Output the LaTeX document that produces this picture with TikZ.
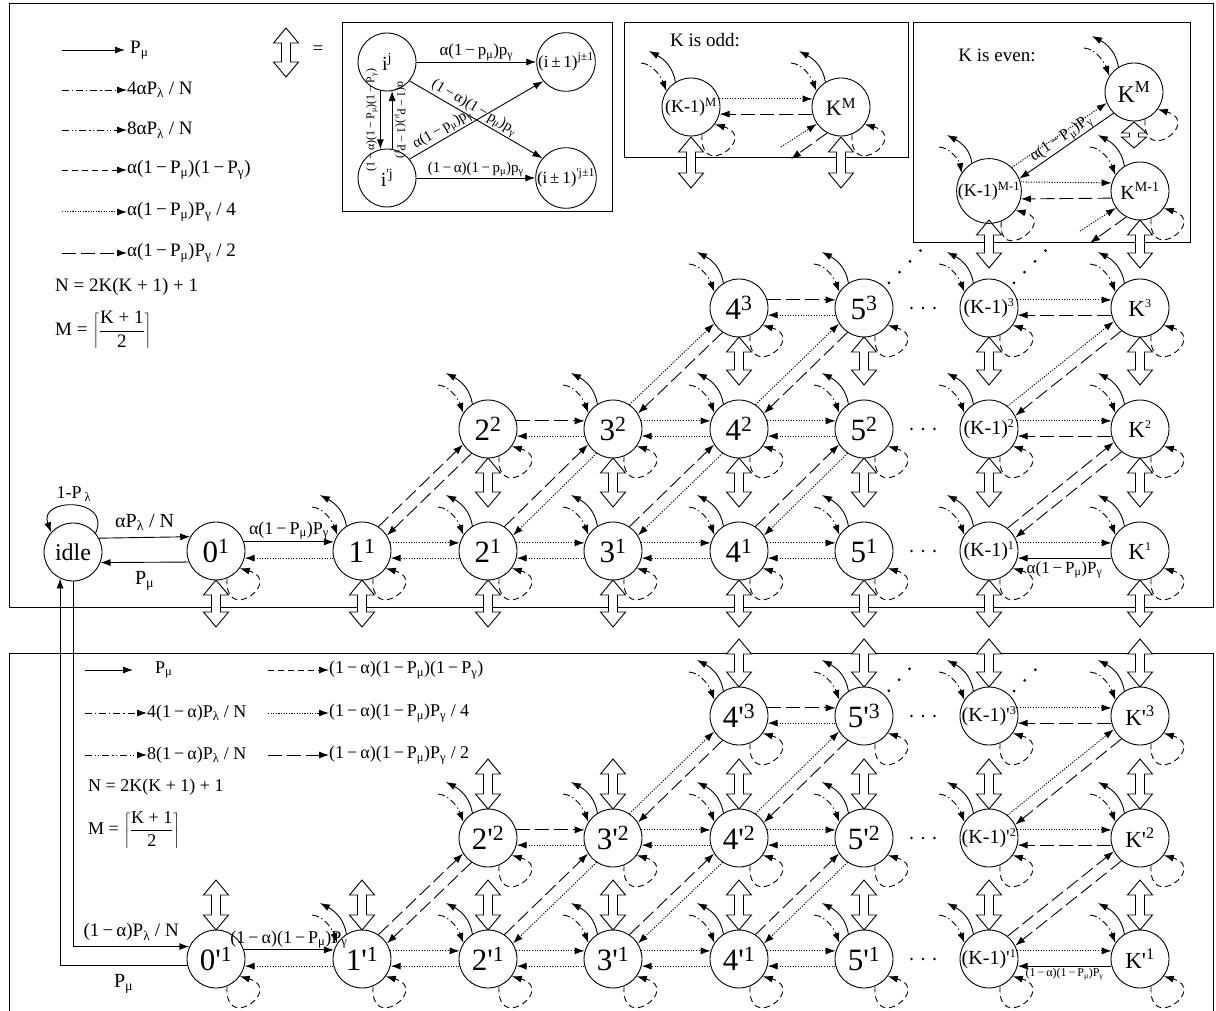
\documentclass[tikz,border=0pt]{standalone}
\usepackage{fontspec}
\setmainfont{Liberation Serif}
\usetikzlibrary{arrows.meta,calc}
\newcommand{\su}[1]{\textsuperscript{#1}}
\newcommand{\ssu}[1]{\textsuperscript{\fontsize{12}{12}\selectfont #1}}
\newcommand{\sbx}[1]{\textsubscript{#1}}
\newcommand{\qs}{\textquotesingle}
\newcommand{\fs}[1]{\fontsize{#1}{#1}\selectfont}
\tikzset{
  st/.style={circle,draw,line width=0.9pt,minimum size=58pt,inner sep=0pt},
  big/.style={font=\fs{31}},
  kmf/.style={font=\fs{20}},
  kf/.style={font=\fs{23}},
  lg/.style={font=\fs{19},inner sep=0pt,anchor=west},
  lab/.style={font=\fs{17},inner sep=1pt},
  arr/.style={-{Latex[length=10pt,width=7pt]},line width=0.9pt},
  dotl/.style={arr,line width=1pt,dash pattern=on 1.1pt off 1.5pt},
  ldash/.style={arr,dash pattern=on 14pt off 5pt},
  sdash/.style={arr,dash pattern=on 6pt off 4pt},
  ddot/.style={arr,dash pattern=on 7pt off 3pt on 1.2pt off 3pt},
  dddot/.style={arr,dash pattern=on 7pt off 3pt on 1.2pt off 2pt on 1.2pt off 3pt},
  dblst/.style={line width=0.9pt,fill=white},
  bigdots/.style={line width=3pt,line cap=round,dash pattern=on 0pt off 15pt},
  hdots/.style={line width=2.6pt,line cap=round,dash pattern=on 0pt off 11.5pt},
  frame/.style={line width=1pt},
}
\newcommand{\dbl}[3]{\draw[dblst] (#1,#2) -- (#1-12.5,#2+15) -- (#1-4.5,#2+15) -- (#1-4.5,#3-15) -- (#1-12.5,#3-15) -- (#1,#3) -- (#1+12.5,#3-15) -- (#1+4.5,#3-15) -- (#1+4.5,#2+15) -- (#1+12.5,#2+15) -- cycle;}
\newcommand{\dblshort}[3]{\draw[dblst] (#1,#2) -- (#1-12.5,#2+11) -- (#1-4.5,#2+11) -- (#1-4.5,#3-11) -- (#1-12.5,#3-11) -- (#1,#3) -- (#1+12.5,#3-11) -- (#1+4.5,#3-11) -- (#1+4.5,#2+11) -- (#1+12.5,#2+11) -- cycle;}
\newcommand{\updeco}[1]{%
  \draw[arr] (#1.122) .. controls ($(#1)+(-18,-40)$) and ($(#1)+(-27,-48)$) .. ($(#1)+(-42,-56)$);
  \draw[ddot] ($(#1)+(-50,-44)$) .. controls ($(#1)+(-37,-43)$) and ($(#1)+(-29,-28)$) .. (#1.147);}
\newcommand{\lpdeco}[1]{\draw[sdash] (#1.-68) .. controls ($(#1)+(8,75)$) and ($(#1)+(68,30)$) .. (#1.-36);}
\newcommand{\llarr}[1]{%
  \draw[dotl] ($(#1)+(-60,40)$) -- (#1.215);
  \draw[ldash] (#1.242) -- ($(#1)+(-50,52)$);}
\newcommand{\hp}[4]{\draw[#3] (#1.16) -- (#2.164); \draw[#4] (#2.-166) -- (#1.-14);}
\newcommand{\dpr}[5]{%
  \pgfmathtruncatemacro\dA{#3+12}\pgfmathtruncatemacro\dB{#3+168}%
  \pgfmathtruncatemacro\dC{#3+192}\pgfmathtruncatemacro\dD{#3-12}%
  \draw[#4] (#1.\dA) -- (#2.\dB); \draw[#5] (#2.\dC) -- (#1.\dD);}
\begin{document}
\begin{tikzpicture}[x=1pt,y=-1pt]
\useasboundingbox (0,0) rectangle (1216,1011);
% frames
\draw[frame] (9,4) rectangle (1213,607);
\draw[frame] (9,1030) -- (9,653) -- (1213,653) -- (1213,1030);
\draw[frame] (342,23) rectangle (612,212);
\draw[frame] (624,23) rectangle (908,158);
\draw[frame] (913,23) rectangle (1190,243);
% double arrows
\foreach \x in {216,362,488,613,739,864,989,1140} {\dbl{\x}{580}{627} \dbl{\x}{880}{930}}
\foreach \x in {488,613,739,864,989,1140} {\dbl{\x}{458}{507} \dbl{\x}{759}{809}}
\foreach \x in {739,864,989,1140} {\dbl{\x}{337}{385} \dbl{\x}{639}{687}}
\dbl{989}{220}{268} \dbl{1140}{220}{268}
\dbl{691}{137}{188} \dbl{841}{137}{188}
\dbl{286}{28}{77}
\dblshort{1134}{122}{148}
\node[font=\fs{19}] (eq) at (318,50) {=};

% ---------- legend top ----------
\node[lg] (L1) at (130,50) {P\sbx{μ}};
\node[lg] (L2) at (127,90) {4αP\sbx{λ} / N};
\node[lg] (L3) at (127,130) {8αP\sbx{λ} / N};
\node[lg] (L4) at (127,170) {α(1\,−\,P\sbx{μ})(1\,−\,P\sbx{γ})};
\node[lg] (L5) at (127,212) {α(1\,−\,P\sbx{μ})P\sbx{γ} / 4};
\node[lg] (L6) at (127,253) {α(1\,−\,P\sbx{μ})P\sbx{γ} / 2};
\draw[arr,shorten >=5pt] ($(L1.west)+(-68,0)$) -- (L1.west);
\draw[ddot] ($(L2.west)+(-65,0)$) -- (L2.west);
\draw[dddot] ($(L3.west)+(-65,0)$) -- (L3.west);
\draw[sdash] ($(L4.west)+(-65,0)$) -- (L4.west);
\draw[dotl] ($(L5.west)+(-65,0)$) -- (L5.west);
\draw[ldash] ($(L6.west)+(-65,0)$) -- (L6.west);
\node[lg] (LN) at (55,287) {N = 2K(K + 1) + 1};
\node[lg] (LM) at (55,330) {M = $\left\lceil\displaystyle\frac{\mbox{K + 1}}{\mbox{2}}\right\rceil$};

% ---------- inset ----------
\node[st,font=\fs{20}] (ij) at (387,62) {i\su{j}};
\node[st,font=\fs{17}] (ip) at (566,62) {(i\,±\,1)\su{j±1}};
\node[st,font=\fs{20}] (ipj) at (387,178) {i\su{\qs j}};
\node[st,font=\fs{17}] (ipp) at (566,178) {(i\,±\,1)\su{\qs j±1}};
\draw[arr] (ij.east) -- (ip.west) node[midway,above,lab] {α(1\,−\,p\sbx{μ})p\sbx{γ}};
\draw[arr] (ipj.east) -- (ipp.west) node[midway,above,lab,font=\fs{15}] {(1\,−\,α)(1\,−\,p\sbx{μ})p\sbx{γ}};
\draw[arr] (ij.-40) -- (ipp.140) node[pos=0.45,sloped,above,lab,font=\fs{15}] {(1\,−\,α)(1\,−\,p\sbx{μ})p\sbx{γ}};
\draw[arr] (ipj.40) -- (ip.-140) node[pos=0.28,sloped,above,lab,font=\fs{15}] {α(1\,−\,p\sbx{μ})p\sbx{γ}};
\draw[arr] (ij.-103) -- (ipj.103);
\draw[arr] (ipj.80) -- (ij.-80);
\node[rotate=90,lab,font=\fs{12}] (ivl) at (372,120) {(1\,−\,α)(1\,−\,P\sbx{μ})(1\,−\,P\sbx{γ})};
\node[rotate=-90,lab,font=\fs{12}] (ivr) at (400,120) {α(1\,−\,P\sbx{μ})(1\,−\,P\sbx{γ})};

% ---------- K odd box ----------
\node[font=\fs{19}] (kodd) at (705,40) {K is odd:};
\node[st,font=\fs{18}] (oddkm) at (691,107) {(K-1)\su{M}};
\node[st,font=\fs{22}] (oddK) at (841,107) {K\su{M}};
\hp{oddkm}{oddK}{dotl}{ldash}
\updeco{oddkm}\updeco{oddK}\lpdeco{oddkm}\lpdeco{oddK}\llarr{oddK}

% ---------- K even box ----------
\node[font=\fs{19}] (keven) at (997,55) {K is even:};
\node[st,font=\fs{24}] (evK) at (1134,92) {K\su{M}};
\node[st,font=\fs{18}] (evkm) at (989,191) {(K-1)\su{M-1}};
\node[st,font=\fs{20}] (evK1) at (1140,191) {K\su{M-1}};
\hp{evkm}{evK1}{dotl}{ldash}
\draw[dotl] (evkm.46) -- (evK.202);
\draw[arr] (evK.226) -- (evkm.22) node[midway,sloped,above=-1pt,lab,font=\fs{16}] {α(1\,−\,P\sbx{μ})P\sbx{γ}};
\updeco{evK}\updeco{evkm}\updeco{evK1}\lpdeco{evK}\lpdeco{evkm}\lpdeco{evK1}\llarr{evK1}

% ---------- top grid ----------
\node[st,font=\fs{24}] (idle) at (73,552) {idle};
\node[st,big] (t01) at (216,551) {0\su{1}};
\node[st,big] (t11) at (362,551) {1\su{1}};
\node[st,big] (t21) at (488,551) {2\su{1}};
\node[st,big] (t31) at (613,551) {3\su{1}};
\node[st,big] (t41) at (739,551) {4\su{1}};
\node[st,big] (t51) at (864,551) {5\su{1}};
\node[st,kmf] (tk1) at (989,551) {(K-1)\ssu{1}};
\node[st,kf] (tK1) at (1140,551) {K\ssu{1}};
\node[st,big] (t22) at (488,429) {2\su{2}};
\node[st,big] (t32) at (613,429) {3\su{2}};
\node[st,big] (t42) at (739,429) {4\su{2}};
\node[st,big] (t52) at (864,429) {5\su{2}};
\node[st,kmf] (tk2) at (989,429) {(K-1)\ssu{2}};
\node[st,kf] (tK2) at (1140,429) {K\ssu{2}};
\node[st,big] (t43) at (739,308) {4\su{3}};
\node[st,big] (t53) at (864,308) {5\su{3}};
\node[st,kmf] (tk3) at (989,308) {(K-1)\ssu{3}};
\node[st,kf] (tK3) at (1140,308) {K\ssu{3}};

\draw[arr] (idle.40) .. controls (112,497) and (38,497) .. (idle.138);
\node[font=\fs{18}] (lidle) at (74,494) {1-P\,\textsubscript{λ}};
\draw[arr] (idle.28) -- (t01.151) node[midway,above=3pt,font=\fs{20}] {αP\sbx{λ} / N};
\draw[arr] (t01.-158) -- (idle.-21) node[midway,below=5pt,font=\fs{20}] {P\sbx{μ}};
\draw[arr] (t01.18) -- (t11.162) node[midway,above=1pt,lab,font=\fs{18}] {α(1\,−\,P\sbx{μ})P\sbx{γ}};
\draw[dotl] (t11.-166) -- (t01.-14);
\hp{t11}{t21}{dotl}{dotl}
\hp{t21}{t31}{dotl}{dotl}
\hp{t31}{t41}{dotl}{dotl}
\hp{t41}{t51}{dotl}{dotl}
\draw[dotl] (tk1.16) -- (tK1.164);
\draw[arr] (tK1.-166) -- (tk1.-14) node[midway,below=2pt,lab] {α(1\,−\,P\sbx{μ})P\sbx{γ}};
\hp{t22}{t32}{ldash}{dotl}
\hp{t32}{t42}{dotl}{dotl}
\hp{t42}{t52}{dotl}{dotl}
\hp{tk2}{tK2}{dotl}{ldash}
\hp{t43}{t53}{ldash}{dotl}
\hp{tk3}{tK3}{dotl}{ldash}
\dpr{t11}{t22}{44}{ldash}{ldash}
\dpr{t21}{t32}{44}{ldash}{dotl}
\dpr{t31}{t42}{44}{ldash}{dotl}
\dpr{t41}{t52}{44}{ldash}{dotl}
\dpr{t32}{t43}{44}{dotl}{ldash}
\dpr{t42}{t53}{44}{dotl}{ldash}
\dpr{tk1}{tK2}{39}{ldash}{ldash}
\dpr{tk2}{tK3}{39}{dotl}{ldash}
\draw[hdots,shorten <=41pt,shorten >=49.5pt] (t51) -- (tk1);
\draw[hdots,shorten <=41pt,shorten >=49.5pt] (t52) -- (tk2);
\draw[hdots,shorten <=41pt,shorten >=49.5pt] (t53) -- (tk3);
\coordinate (dA) at (928,243);
\coordinate (dB) at (1050,246);
\draw[bigdots,shorten <=6pt] (t53.45) -- (dA);
\draw[bigdots,shorten <=6pt] (tk3.45) -- (dB);
\foreach \n in {t11,t21,t31,t41,t51,tk1,tK1,t22,t32,t42,t52,tk2,tK2,t43,t53,tk3,tK3} {\updeco{\n}}
\foreach \n in {t01,t11,t21,t31,t41,t51,tk1,tK1,t22,t32,t42,t52,tk2,tK2,t43,t53,tk3,tK3} {\lpdeco{\n}}

% ---------- legend bottom ----------
\node[lg,font=\fs{18}] (B1) at (155,670) {P\sbx{μ}};
\node[lg,font=\fs{18}] (B2) at (147,713) {4(1\,−\,α)P\sbx{λ} / N};
\node[lg,font=\fs{18}] (B3) at (147,755) {8(1\,−\,α)P\sbx{λ} / N};
\node[lg,font=\fs{18}] (B4) at (329,670) {(1\,−\,α)(1\,−\,P\sbx{μ})(1\,−\,P\sbx{γ})};
\node[lg,font=\fs{18}] (B5) at (329,713) {(1\,−\,α)(1\,−\,P\sbx{μ})P\sbx{γ} / 4};
\node[lg,font=\fs{18}] (B6) at (329,755) {(1\,−\,α)(1\,−\,P\sbx{μ})P\sbx{γ} / 2};
\draw[arr,shorten >=22pt] ($(B1.west)+(-70,0)$) -- (B1.west);
\draw[ddot] ($(B2.west)+(-62,0)$) -- (B2.west);
\draw[dddot] ($(B3.west)+(-62,0)$) -- (B3.west);
\draw[sdash] ($(B4.west)+(-61,0)$) -- (B4.west);
\draw[dotl] ($(B5.west)+(-61,0)$) -- (B5.west);
\draw[ldash] ($(B6.west)+(-61,0)$) -- (B6.west);
\node[lg,font=\fs{18}] (BN) at (88,787) {N = 2K(K + 1) + 1};
\node[lg,font=\fs{18}] (BM) at (88,830) {M = $\left\lceil\displaystyle\frac{\mbox{K + 1}}{\mbox{2}}\right\rceil$};

% ---------- bottom grid ----------
\node[st,big] (b01) at (216,959) {0\qs\su{1}};
\node[st,big] (b11) at (362,959) {1\qs\su{1}};
\node[st,big] (b21) at (488,959) {2\qs\su{1}};
\node[st,big] (b31) at (613,959) {3\qs\su{1}};
\node[st,big] (b41) at (739,959) {4\qs\su{1}};
\node[st,big] (b51) at (864,959) {5\qs\su{1}};
\node[st,kmf] (bk1) at (989,959) {(K-1)\qs\ssu{1}};
\node[st,kf] (bK1) at (1140,959) {K\qs\su{1}};
\node[st,big] (b22) at (488,838) {2\qs\su{2}};
\node[st,big] (b32) at (613,838) {3\qs\su{2}};
\node[st,big] (b42) at (739,838) {4\qs\su{2}};
\node[st,big] (b52) at (864,838) {5\qs\su{2}};
\node[st,kmf] (bk2) at (989,838) {(K-1)\qs\ssu{2}};
\node[st,kf] (bK2) at (1140,838) {K\qs\su{2}};
\node[st,big] (b43) at (739,716) {4\qs\su{3}};
\node[st,big] (b53) at (864,716) {5\qs\su{3}};
\node[st,kmf] (bk3) at (989,716) {(K-1)\qs\ssu{3}};
\node[st,kf] (bK3) at (1140,716) {K\qs\su{3}};

\draw[arr] (idle.-90) |- (b01.155) node[pos=0.75,above=2pt,font=\fs{19}] {(1\,−\,α)P\sbx{λ} / N};
\draw[arr] (b01.192) -| (idle.-116) node[pos=0.25,below=5pt,font=\fs{20}] {P\sbx{μ}};
\draw[arr] (b01.18) -- (b11.162) node[midway,above=0pt,lab,font=\fs{18}] {(1\,−\,α)(1\,−\,P\sbx{μ})P\sbx{γ}};
\draw[dotl] (b11.-166) -- (b01.-14);
\hp{b11}{b21}{dotl}{dotl}
\hp{b21}{b31}{dotl}{dotl}
\hp{b31}{b41}{dotl}{dotl}
\hp{b41}{b51}{dotl}{dotl}
\draw[dotl] (bk1.16) -- (bK1.164);
\draw[arr] (bK1.-166) -- (bk1.-14) node[midway,below=1pt,lab,font=\fs{12}] {(1\,−\,α)(1\,−\,P\sbx{μ})P\sbx{γ}};
\hp{b22}{b32}{ldash}{dotl}
\hp{b32}{b42}{dotl}{dotl}
\hp{b42}{b52}{dotl}{dotl}
\hp{bk2}{bK2}{dotl}{ldash}
\hp{b43}{b53}{ldash}{dotl}
\hp{bk3}{bK3}{dotl}{ldash}
\dpr{b11}{b22}{44}{ldash}{ldash}
\dpr{b21}{b32}{44}{ldash}{dotl}
\dpr{b31}{b42}{44}{ldash}{dotl}
\dpr{b41}{b52}{44}{ldash}{dotl}
\dpr{b32}{b43}{44}{dotl}{ldash}
\dpr{b42}{b53}{44}{dotl}{ldash}
\dpr{bk1}{bK2}{39}{ldash}{ldash}
\dpr{bk2}{bK3}{39}{dotl}{ldash}
\draw[hdots,shorten <=41pt,shorten >=49.5pt] (b51) -- (bk1);
\draw[hdots,shorten <=41pt,shorten >=49.5pt] (b52) -- (bk2);
\draw[hdots,shorten <=41pt,shorten >=49.5pt] (b53) -- (bk3);
\coordinate (dC) at (913,665);
\coordinate (dD) at (1043,662);
\draw[bigdots,shorten <=6pt] (b53.45) -- (dC);
\draw[bigdots,shorten <=6pt] (bk3.45) -- (dD);
\foreach \n in {b11,b21,b31,b41,b51,bk1,bK1,b22,b32,b42,b52,bk2,bK2,b43,b53,bk3,bK3} {\updeco{\n}}
\foreach \n in {b01,b11,b21,b31,b41,b51,bk1,bK1,b22,b32,b42,b52,bk2,bK2,b43,b53,bk3,bK3} {\lpdeco{\n}}
\end{tikzpicture}
\end{document}
